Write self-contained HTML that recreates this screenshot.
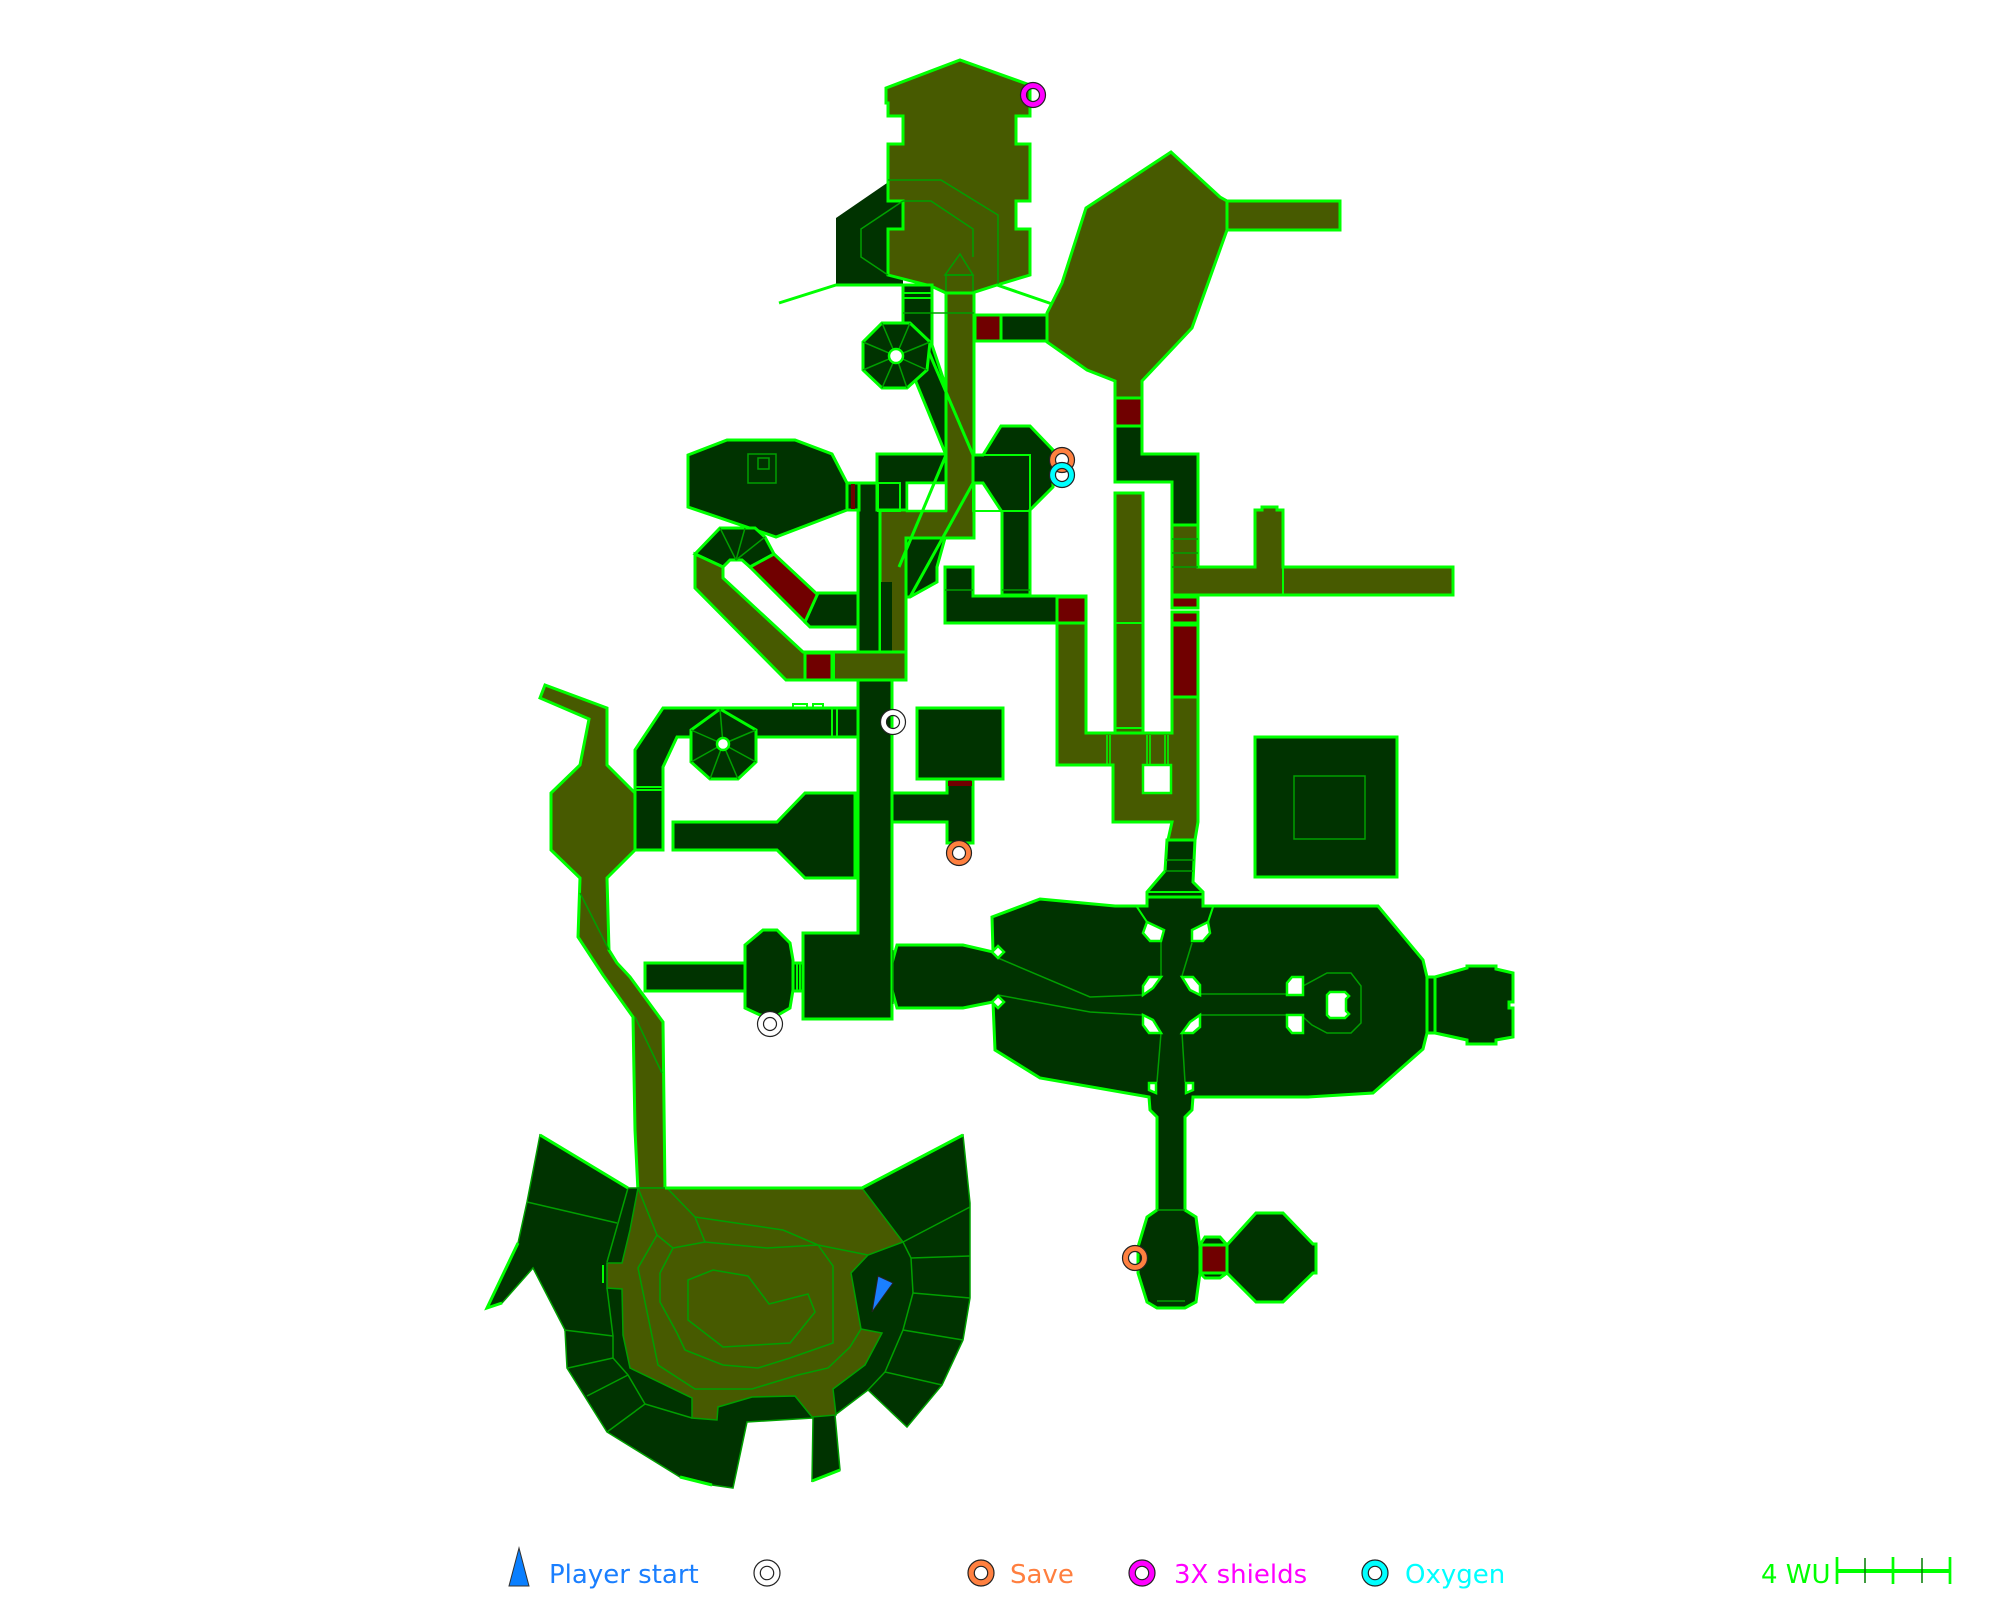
<!DOCTYPE html>
<html><head><meta charset="utf-8"><style>
html,body{margin:0;padding:0;background:#fff;}
svg{display:block}
.d{fill:#003300;stroke:#00ff00;stroke-width:3;stroke-linejoin:miter}
.o{fill:#475a00;stroke:#00ff00;stroke-width:3}
.r{fill:#700000;stroke:#00ff00;stroke-width:3}
.w{fill:#fff;stroke:#00ff00;stroke-width:2.5}
.t{fill:none;stroke:#00a000;stroke-width:1.5}
.b{fill:none;stroke:#00ff00;stroke-width:3}
.b2{fill:none;stroke:#00ff00;stroke-width:2}
.dn{fill:#003300;stroke:#00a000;stroke-width:1.5}
.on{fill:#475a00;stroke:#00a000;stroke-width:1.5}
text{font-family:"DejaVu Sans","Liberation Sans",sans-serif;font-size:26px}
</style></head><body>
<svg width="2000" height="1600" viewBox="0 0 2000 1600" xmlns="http://www.w3.org/2000/svg">
<rect width="2000" height="1600" fill="#fff"/>

<!-- ===== TOP TOWER ===== -->
<polygon fill="#003300" points="836,218 887,183 903,183 903,285 836,285"/>
<polygon class="o" points="886,88 960,60 1030,85 1030,116 1016,116 1016,144 1030,144 1030,201 1016,201 1016,229 1030,229 1030,275 997,285 972,293 946,293 931,286 888,275 888,229 903,229 903,201 888,201 888,144 903,144 903,116 888,116 888,103 886,103"/>
<polyline class="t" points="888,180 941,180 998,215 998,285"/>
<polyline class="t" points="903,201 931,201 973,229 973,257"/>
<polyline class="t" points="903,201 861,229 861,257 888,275"/>
<polygon class="t" points="960,254 945,275 973,275"/>
<rect class="t" x="946" y="275" width="27" height="18"/>
<polyline class="b" points="779,303 836,285 903,285"/>
<polyline class="b" points="997,285 1058,306"/>

<!-- dark column + diagonal -->
<polygon class="d" points="903,285 932,285 932,345 946,387 946,455 907,360 903,350"/>
<line class="b2" x1="903" y1="293" x2="932" y2="293"/>
<line class="b2" x1="903" y1="298" x2="932" y2="298"/>

<!-- main corridor + square room -->
<polygon class="d" points="858,483 892,483 892,1019 803,1019 803,933 858,933"/>

<!-- olive crossing -->
<polygon class="o" points="946,293 974,293 974,538 906,538 906,680 880,680 880,510 946,510"/>
<line class="t" x1="903" y1="313" x2="974" y2="313"/>
<rect fill="#003300" x="881" y="582" width="11" height="70"/>
<line class="b" x1="928" y1="350" x2="973" y2="455"/>

<!-- top box -->
<polygon class="d" points="877,454 946,454 946,483 907,483 907,510 877,510"/>
<rect class="w" x="907" y="483" width="39" height="28"/>
<rect class="b2" x="878" y="483" width="22" height="28"/>

<!-- R1 room -->
<polygon class="d" points="973,455 983,455 1001,426 1030,426 1053,450 1053,487 1030,510 1030,595 1002,595 1002,512 983,483 973,483"/>
<rect class="b2" x="973" y="455" width="57" height="56"/>
<line class="b2" x1="983" y1="483" x2="1002" y2="512"/>
<line class="t" x1="1002" y1="590" x2="1030" y2="590"/>

<!-- dark triangle -->
<polygon class="d" points="906,538 945,538 937,567 937,582 910,597 906,597"/>
<line class="b" x1="946" y1="455" x2="899" y2="567"/>
<line class="b" x1="973" y1="483" x2="910" y2="597"/>

<!-- small box + corridor to red -->
<polygon class="d" points="945,567 973,567 973,596 1058,596 1058,623 945,623"/>
<line class="t" x1="945" y1="590" x2="973" y2="590"/>
<rect class="r" x="1058" y="596" width="28" height="27"/>

<!-- octagon top -->
<polygon class="d" points="882,323 910,323 930,342 927,370 907,388 882,388 863,370 863,342"/>
<g class="t">
<line x1="896" y1="356" x2="882" y2="323"/><line x1="896" y1="356" x2="910" y2="323"/>
<line x1="896" y1="356" x2="930" y2="342"/><line x1="896" y1="356" x2="927" y2="370"/>
<line x1="896" y1="356" x2="907" y2="388"/><line x1="896" y1="356" x2="882" y2="388"/>
<line x1="896" y1="356" x2="863" y2="370"/><line x1="896" y1="356" x2="863" y2="342"/>
</g>
<circle cx="896" cy="356" r="7" fill="#fff" stroke="#00ff00" stroke-width="2.5"/>

<!-- red + dark horizontal -->
<rect class="r" x="975" y="315" width="26" height="26"/>
<rect class="d" x="1001" y="315" width="47" height="26"/>

<!-- right olive room -->
<polygon class="o" points="1086,208 1171,152 1220,197 1227,201 1227,230 1192,328 1142,381 1142,398 1115,398 1115,381 1087,370 1047,342 1047,313 1062,283"/>
<rect class="o" x="1227" y="201" width="113" height="29"/>
<rect class="r" x="1115" y="398" width="27" height="28"/>

<!-- dark L -->
<polygon class="d" points="1115,426 1142,426 1142,454 1198,454 1198,525 1172,525 1172,482 1115,482"/>

<!-- column B olive + horizontal corridor -->
<polygon class="o" points="1172,525 1198,525 1198,567 1255,567 1255,510 1262,510 1262,507 1277,507 1277,510 1283,510 1283,567 1453,567 1453,595 1172,595"/>
<line class="t" x1="1172" y1="539" x2="1198" y2="539"/>
<line class="t" x1="1172" y1="553" x2="1198" y2="553"/>
<line class="t" x1="1172" y1="567" x2="1198" y2="567"/>
<line class="b2" x1="1283" y1="567" x2="1283" y2="595"/>
<rect class="r" x="1172" y="597" width="26" height="11"/>
<rect class="r" x="1172" y="612" width="26" height="11"/>
<rect class="r" x="1172" y="625" width="26" height="72"/>

<!-- column A -->
<rect class="o" x="1115" y="493" width="28" height="240"/>
<line class="b2" x1="1115" y1="623" x2="1143" y2="623"/>
<line class="b2" x1="1115" y1="728" x2="1143" y2="728"/>

<!-- funnel down -->
<polygon class="d" points="1167,840 1195,840 1193,882 1203,892 1203,906 1147,906 1147,892 1165,871"/>
<line class="t" x1="1166" y1="860" x2="1194" y2="860"/>
<line class="t" x1="1165" y1="871" x2="1193" y2="871"/>

<!-- bottom olive L -->
<polygon class="o" points="1057,623 1086,623 1086,733 1172,733 1172,697 1198,697 1198,822 1195,840 1168,840 1172,822 1113,822 1113,765 1057,765"/>
<rect class="r" x="1057" y="597" width="29" height="26"/>
<rect class="w" x="1143" y="765" width="28" height="28"/>
<g class="b2" style="stroke-width:1.5">
<line x1="1107" y1="735" x2="1107" y2="765"/><line x1="1110" y1="735" x2="1110" y2="765"/>
<line x1="1147" y1="735" x2="1147" y2="765"/><line x1="1150" y1="735" x2="1150" y2="765"/>
<line x1="1165" y1="735" x2="1165" y2="765"/><line x1="1168" y1="735" x2="1168" y2="765"/>
</g>

<!-- right square room -->
<rect class="d" x="1255" y="737" width="142" height="140"/>
<rect class="t" x="1294" y="776" width="71" height="63"/>

<!-- big room -->
<polygon class="d" points="992,917 1040,899 1115,906 1147,906 1147,897 1203,897 1203,906 1378,906 1423,960 1427,977 1427,1033 1423,1049 1373,1093 1308,1097 1193,1097 1192,1110 1185,1117 1185,1210 1196,1217 1200,1247 1200,1273 1196,1302 1185,1308 1157,1308 1147,1302 1138,1273 1138,1247 1147,1217 1157,1210 1157,1117 1150,1110 1149,1097 1040,1078 995,1050 993,1002 963,1008 897,1008 892,990 892,963 897,945 963,945 993,952"/>
<line class="b2" x1="1147" y1="892" x2="1203" y2="892"/>
<line class="b2" x1="1147" y1="897" x2="1203" y2="897"/>
<line class="b2" x1="1137" y1="907" x2="1147" y2="922"/>
<line class="b2" x1="1213" y1="907" x2="1208" y2="922"/>
<g class="t">
<polyline points="998,958 1090,997 1142,995"/>
<polyline points="998,995 1090,1012 1142,1015"/>
<line x1="1161" y1="942" x2="1161" y2="977"/>
<line x1="1192" y1="943" x2="1182" y2="976"/>
<line x1="1161" y1="1033" x2="1157" y2="1082"/>
<line x1="1182" y1="1033" x2="1185" y2="1082"/>
<line x1="1200" y1="994" x2="1287" y2="994"/>
<line x1="1200" y1="1015" x2="1287" y2="1015"/>
<polyline points="1303,986 1327,973 1351,973 1361,986 1361,1023 1351,1033 1327,1033 1312,1025 1303,1017"/>
<line x1="1157" y1="1210" x2="1185" y2="1210"/>
<line x1="1157" y1="1301" x2="1185" y2="1301"/>
<line x1="893" y1="950" x2="893" y2="1004"/>
</g>
<polygon class="w" points="1147,922 1164,930 1161,941 1150,941 1143,933"/>
<polygon class="w" points="1208,922 1210,933 1203,941 1192,941 1192,930"/>
<polygon class="w" points="1143,986 1149,977 1161,977 1153,988 1143,995"/>
<polygon class="w" points="1182,977 1193,977 1200,985 1200,995 1190,990"/>
<polygon class="w" points="1143,1015 1153,1020 1161,1033 1149,1033 1143,1025"/>
<polygon class="w" points="1200,1015 1200,1027 1193,1033 1182,1033 1190,1022"/>
<polygon class="w" points="1292,977 1303,977 1303,995 1287,995 1287,983"/>
<polygon class="w" points="1287,1015 1303,1015 1303,1033 1292,1033 1287,1027"/>
<polygon class="w" points="998,946 1004,952 998,958 992,952"/>
<polygon class="w" points="998,996 1004,1002 998,1008 992,1002"/>
<polygon class="w" points="1149,1083 1156,1083 1156,1093 1149,1090"/>
<polygon class="w" points="1186,1083 1193,1083 1193,1090 1186,1093"/>
<polygon class="w" points="1330,992 1345,992 1349,996 1346,999 1346,1011 1349,1014 1345,1018 1330,1018 1327,1015 1327,995"/>

<!-- right end room -->
<rect class="d" x="1427" y="977" width="8" height="56"/>
<polygon class="d" points="1435,977 1467,968 1467,966 1496,966 1496,969 1513,973 1513,1002 1509,1002 1509,1008 1513,1008 1513,1037 1496,1040 1496,1044 1467,1044 1467,1040 1435,1033"/>

<!-- bottom red + octagon -->
<polygon class="d" points="1200,1245 1205,1237 1220,1237 1227,1245 1227,1273 1220,1278 1205,1278 1200,1273"/>
<rect class="r" x="1201" y="1245" width="26" height="28"/>
<polygon class="d" points="1256,1213 1283,1213 1313,1244 1316,1244 1316,1273 1313,1273 1283,1302 1256,1302 1227,1273 1227,1245"/>

<!-- ===== LEFT-TOP ROOMS ===== -->
<polygon class="d" points="688,455 727,440 795,440 832,454 847,483 847,510 776,537 688,507"/>
<rect class="t" x="748" y="454" width="28" height="29"/>
<rect class="t" x="758" y="458" width="11" height="11"/>
<rect class="d" x="847" y="483" width="12" height="27"/>
<rect fill="#700000" x="851" y="484" width="4" height="25"/>

<!-- half octagon -->
<polygon class="d" points="695,554 720,528 755,528 765,537 774,554 750,567 742,560 730,560 723,567"/>
<g class="t">
<line x1="736" y1="560" x2="720" y2="528"/><line x1="736" y1="560" x2="745" y2="528"/><line x1="736" y1="560" x2="765" y2="537"/>
</g>

<!-- olive band -->
<polygon class="o" points="695,554 723,567 723,578 803,652 858,652 906,652 906,680 786,680 695,588"/>
<rect class="r" x="805" y="653" width="27" height="27"/>
<line class="b2" x1="834" y1="653" x2="834" y2="680"/>
<polygon class="r" points="750,567 774,554 818,595 805,622"/>
<polygon class="d" points="818,593 858,593 858,627 810,627 805,622"/>

<!-- left corridor + heptagon -->
<polygon class="d" points="663,708 858,708 858,737 677,737 663,767 663,850 635,850 635,750"/>
<line class="b2" x1="635" y1="787" x2="663" y2="787"/>
<line class="b2" x1="635" y1="790" x2="663" y2="790"/>
<line class="b2" x1="832" y1="708" x2="832" y2="737"/>
<line class="b2" x1="837" y1="708" x2="837" y2="737"/>
<rect class="b2" x="793" y="704" width="14" height="4"/>
<rect class="b2" x="813" y="704" width="10" height="4"/>
<polygon class="d" points="720,709 756,730 756,762 738,779 710,779 691,762 691,730"/>
<g class="t">
<line x1="723" y1="744" x2="720" y2="709"/><line x1="723" y1="744" x2="756" y2="730"/>
<line x1="723" y1="744" x2="756" y2="762"/><line x1="723" y1="744" x2="738" y2="779"/>
<line x1="723" y1="744" x2="710" y2="779"/><line x1="723" y1="744" x2="691" y2="762"/>
<line x1="723" y1="744" x2="691" y2="730"/>
</g>
<circle cx="723" cy="744" r="6" fill="#fff" stroke="#00ff00" stroke-width="2.5"/>

<!-- funnel room -->
<polygon class="d" points="673,822 777,822 805,793 855,793 855,878 805,878 777,850 673,850"/>

<!-- box + corridor (right of main) -->
<rect class="d" x="917" y="708" width="86" height="71"/>
<polygon class="d" points="892,793 947,793 947,779 973,779 973,843 947,843 947,822 892,822"/>
<rect fill="#700000" x="948" y="781" width="24" height="5"/>

<!-- left small room -->
<rect class="d" x="645" y="963" width="100" height="28"/>
<polygon class="d" points="745,945 763,930 777,930 790,943 793,960 793,990 790,1008 778,1015 760,1015 745,1008"/>
<rect class="d" x="793" y="963" width="10" height="28"/>
<line class="b2" x1="797" y1="963" x2="797" y2="991"/>
<line class="b2" x1="800" y1="963" x2="800" y2="991"/>

<!-- olive octagon + path -->
<polygon class="o" points="545,685 607,708 607,765 635,793 635,850 607,878 609,950 617,963 630,977 663,1022 665,1192 638,1192 635,1130 633,1017 603,975 578,937 580,878 551,850 551,793 580,765 589,719 540,698"/>
<line class="t" x1="580" y1="893" x2="609" y2="950"/>
<line class="t" x1="635" y1="1017" x2="662" y2="1073"/>

<!-- ===== BOTTOM-LEFT ROOM ===== -->
<polygon class="dn" points="540,1135 628,1188 638,1188 665,1188 862,1188 963,1135 970,1203 970,1298 963,1340 942,1385 907,1427 868,1390 835,1415 840,1470 812,1481 813,1418 747,1422 733,1488 712,1485 680,1477 607,1432 567,1368 565,1330 533,1268 502,1303 487,1308 518,1243 527,1202"/>
<polygon class="on" points="638,1188 665,1188 862,1188 903,1242 868,1255 851,1273 861,1329 882,1333 865,1365 833,1389 836,1415 812,1417 795,1396 752,1397 718,1407 717,1420 692,1418 692,1398 630,1368 623,1335 622,1289 607,1288 607,1263 622,1263 630,1230"/>
<g class="t">
<polyline points="638,1188 657,1235 673,1248"/>
<polyline points="657,1235 638,1268 658,1365 695,1389 752,1389 798,1375 828,1368 850,1347 861,1329"/>
<polyline points="673,1248 660,1273 660,1302 677,1333 685,1350 723,1365 758,1368 790,1358 833,1343 833,1266 818,1245"/>
<polyline points="673,1248 705,1242 767,1248 818,1245"/>
<polyline points="667,1188 695,1217 705,1242"/>
<polyline points="695,1217 783,1230 818,1245 868,1255"/>
<polygon points="688,1280 713,1270 748,1276 769,1304 808,1294 815,1312 790,1343 723,1347 688,1320"/>
<line x1="527" y1="1202" x2="617" y2="1223"/>
<line x1="564" y1="1330" x2="613" y2="1336"/>
<line x1="568" y1="1368" x2="613" y2="1358"/>
<line x1="587" y1="1396" x2="628" y2="1375"/>
<line x1="607" y1="1432" x2="645" y2="1404"/>
<polyline points="628,1188 607,1262"/>
<polyline points="607,1288 613,1336 613,1358 628,1375 645,1404 692,1418"/>
<line x1="903" y1="1242" x2="970" y2="1207"/>
<line x1="911" y1="1258" x2="970" y2="1256"/>
<line x1="913" y1="1293" x2="970" y2="1298"/>
<line x1="903" y1="1330" x2="963" y2="1340"/>
<line x1="885" y1="1372" x2="942" y2="1385"/>
<polyline points="903,1242 911,1258 913,1293 903,1330 885,1372 868,1390"/>
</g>
<polyline class="b" points="540,1135 628,1188"/>
<polyline class="b" points="665,1188 862,1188 963,1135"/>
<polyline class="b" points="502,1303 487,1308 518,1243"/>
<polyline class="b" points="680,1477 712,1485"/>
<polyline class="b" points="812,1481 840,1470"/>
<line class="b2" x1="603" y1="1265" x2="603" y2="1283"/>
<polygon points="878,1276 893,1283 872,1312" fill="#1a7fff" stroke="#222" stroke-width="1"/>

<!-- ===== ITEMS ===== -->
<g>
<circle cx="1033" cy="95" r="9.5" fill="none" stroke="#ff00ff" stroke-width="6"/>
<circle cx="1033" cy="95" r="12.5" fill="none" stroke="#222" stroke-width="1.2"/>
<circle cx="1033" cy="95" r="6.5" fill="none" stroke="#222" stroke-width="1.2"/>

<circle cx="1062" cy="460" r="9.5" fill="none" stroke="#ff8040" stroke-width="6"/>
<circle cx="1062" cy="460" r="12.5" fill="none" stroke="#222" stroke-width="1.2"/>
<circle cx="1062" cy="460" r="6.5" fill="none" stroke="#222" stroke-width="1.2"/>

<circle cx="1062" cy="475" r="9.5" fill="none" stroke="#00ffff" stroke-width="6"/>
<circle cx="1062" cy="475" r="12.5" fill="none" stroke="#222" stroke-width="1.2"/>
<circle cx="1062" cy="475" r="6.5" fill="none" stroke="#222" stroke-width="1.2"/>

<circle cx="893" cy="722" r="9.5" fill="none" stroke="#ffffff" stroke-width="6"/>
<circle cx="893" cy="722" r="12.5" fill="none" stroke="#222" stroke-width="1.2"/>
<circle cx="893" cy="722" r="6.5" fill="none" stroke="#222" stroke-width="1.2"/>

<circle cx="959" cy="853" r="9.5" fill="none" stroke="#ff8040" stroke-width="6"/>
<circle cx="959" cy="853" r="12.5" fill="none" stroke="#222" stroke-width="1.2"/>
<circle cx="959" cy="853" r="6.5" fill="none" stroke="#222" stroke-width="1.2"/>

<circle cx="770" cy="1024" r="9.5" fill="none" stroke="#ffffff" stroke-width="6"/>
<circle cx="770" cy="1024" r="12.5" fill="none" stroke="#222" stroke-width="1.2"/>
<circle cx="770" cy="1024" r="6.5" fill="none" stroke="#222" stroke-width="1.2"/>

<circle cx="1135" cy="1258" r="9.5" fill="none" stroke="#ff8040" stroke-width="6"/>
<circle cx="1135" cy="1258" r="12.5" fill="none" stroke="#222" stroke-width="1.2"/>
<circle cx="1135" cy="1258" r="6.5" fill="none" stroke="#222" stroke-width="1.2"/>
</g>

<!-- ===== LEGEND ===== -->
<polygon points="519,1548 509,1586 529,1586" fill="#0a7fff" stroke="#333" stroke-width="1"/>
<text x="549" y="1583" fill="#1a7fff">Player start</text>

<circle cx="767" cy="1573" r="9.8" fill="none" stroke="#ffffff" stroke-width="6"/>
<circle cx="767" cy="1573" r="13" fill="none" stroke="#222" stroke-width="1.2"/>
<circle cx="767" cy="1573" r="6.7" fill="none" stroke="#222" stroke-width="1.2"/>

<circle cx="981" cy="1573" r="9.8" fill="none" stroke="#ff8040" stroke-width="6"/>
<circle cx="981" cy="1573" r="13" fill="none" stroke="#222" stroke-width="1.2"/>
<circle cx="981" cy="1573" r="6.7" fill="none" stroke="#222" stroke-width="1.2"/>
<text x="1010" y="1583" fill="#ff7f3f">Save</text>

<circle cx="1142" cy="1573" r="9.8" fill="none" stroke="#ff00ff" stroke-width="6"/>
<circle cx="1142" cy="1573" r="13" fill="none" stroke="#222" stroke-width="1.2"/>
<circle cx="1142" cy="1573" r="6.7" fill="none" stroke="#222" stroke-width="1.2"/>
<text x="1174" y="1583" fill="#ff00ff">3X shields</text>

<circle cx="1375" cy="1573" r="9.8" fill="none" stroke="#00ffff" stroke-width="6"/>
<circle cx="1375" cy="1573" r="13" fill="none" stroke="#222" stroke-width="1.2"/>
<circle cx="1375" cy="1573" r="6.7" fill="none" stroke="#222" stroke-width="1.2"/>
<text x="1405" y="1583" fill="#00ffff">Oxygen</text>

<text x="1761" y="1583" fill="#00ff00">4 WU</text>
<line x1="1837" y1="1571" x2="1950" y2="1571" stroke="#00ff00" stroke-width="4"/>
<g stroke="#00ff00" stroke-width="2.7">
<line x1="1837" y1="1557" x2="1837" y2="1584"/>
<line x1="1893" y1="1557" x2="1893" y2="1584"/>
<line x1="1950" y1="1557" x2="1950" y2="1584"/>
</g>
<g stroke="#007a00" stroke-width="1.5">
<line x1="1865" y1="1558" x2="1865" y2="1583"/>
<line x1="1922" y1="1558" x2="1922" y2="1583"/>
</g>
</svg>
</body></html>
